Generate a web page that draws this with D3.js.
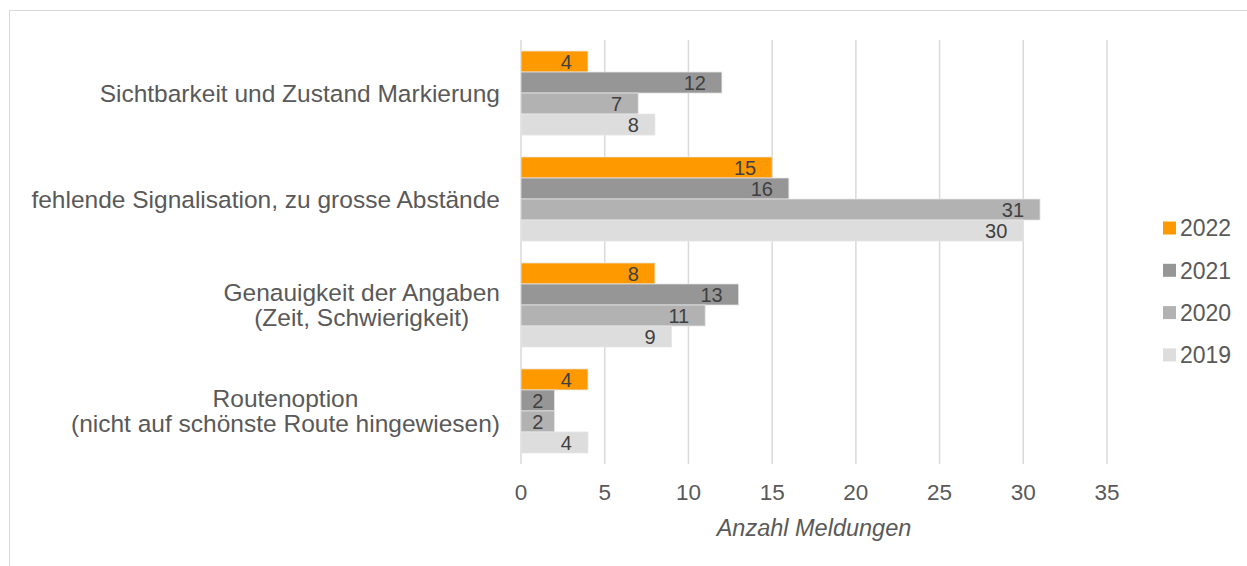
<!DOCTYPE html>
<html>
<head>
<meta charset="utf-8">
<script src="https://cdn.jsdelivr.net/npm/d3@7"></script>
<style>
  body { margin: 0; background: #fff; }
  text { font-family: "Liberation Sans", Arial, sans-serif; }
</style>
</head>
<body>
<div id="chart"></div>
<script>
// categories, top to bottom (multi-line labels split on "|")
const categories = [
	"Sichtbarkeit und Zustand Markierung",
	"fehlende Signalisation, zu grosse Abstände",
	"Genauigkeit der Angaben|(Zeit, Schwierigkeit)",
	"Routenoption|(nicht auf schönste Route hingewiesen)"
];
const years = ["2022", "2021", "2020", "2019"];
const values2022 = [4, 15, 8, 4];
const values2021 = [12, 16, 13, 2];
const values2020 = [7, 31, 11, 2];
const values2019 = [8, 30, 9, 4];
const xTicks = [0, 5, 10, 15, 20, 25, 30, 35];
const colors = ["#ff9900", "#969696", "#b2b2b2", "#dddddd"];

const seriesValues = [values2022, values2021, values2020, values2019];

const width = 1247, height = 566;
const margin = {top: 40, left: 521, right: 140, bottom: 102};

const svg = d3.select("#chart").append("svg")
	.attr("width", width)
	.attr("height", height);

// outer frame
svg.append("path")
	.attr("d", `M9.5,${height} V10.5 H${width}`)
	.attr("fill", "none")
	.attr("stroke", "#d9d9d9");

const x = d3.scaleLinear()
	.domain([0, 35])
	.range([margin.left, 1107]);

const y = d3.scaleBand()
	.domain(categories)
	.range([margin.top, height - margin.bottom])
	.paddingInner(0.207)
	.paddingOuter(0.104);

const ySub = d3.scaleBand()
	.domain(years)
	.range([0, y.bandwidth()]);

// gridlines
svg.append("g")
	.selectAll("line")
	.data(xTicks)
	.join("line")
	.attr("x1", d => x(d))
	.attr("x2", d => x(d))
	.attr("y1", margin.top)
	.attr("y2", height - margin.bottom)
	.attr("stroke", "#d9d9d9")
	.attr("stroke-width", 1.5);

// bars
const data = [];
categories.forEach((c, i) => {
	years.forEach((yr, j) => {
		data.push({cat: c, year: yr, value: seriesValues[j][i], color: colors[j]});
	});
});

const bars = svg.append("g");
bars.selectAll("rect")
	.data(data)
	.join("rect")
	.attr("x", x(0))
	.attr("y", d => y(d.cat) + ySub(d.year))
	.attr("width", d => x(d.value) - x(0))
	.attr("height", ySub.bandwidth())
	.attr("fill", d => d.color)
	.attr("stroke", "#e6e6e6")
	.attr("stroke-width", 0.75);

// labels at inside end, small bars keep a smaller inset
bars.selectAll("text")
	.data(data)
	.join("text")
	.attr("x", d => x(d.value) - (d.value < 3 ? 11 : 16))
	.attr("y", d => y(d.cat) + ySub(d.year) + ySub.bandwidth() / 2)
	.attr("dy", "0.36em")
	.attr("text-anchor", "end")
	.attr("font-size", 20)
	.attr("fill", "#404040")
	.text(d => d.value);

// category labels
const catG = svg.append("g");
categories.forEach(c => {
	const lines = c.split("|");
	const cy = y(c) + y.bandwidth() / 2;
	const lh = 25;
	const t = catG.append("text")
		.attr("font-size", 24.5)
		.attr("fill", "#595959")
		.attr("text-anchor", "middle");
	lines.forEach((l, k) => {
		t.append("tspan")
			.attr("y", cy + (k - (lines.length - 1) / 2) * lh)
			.attr("dy", "0.36em")
			.text(l);
	});
	let maxW = 0;
	t.selectAll("tspan").each(function() {
		maxW = Math.max(maxW, this.getComputedTextLength());
	});
	t.selectAll("tspan").attr("x", 500 - maxW / 2);
});

// x axis tick labels
svg.append("g")
	.selectAll("text")
	.data(xTicks)
	.join("text")
	.attr("x", d => x(d))
	.attr("y", 500)
	.attr("text-anchor", "middle")
	.attr("font-size", 22.5)
	.attr("fill", "#595959")
	.text(d => d);

// axis title
svg.append("text")
	.attr("x", 814)
	.attr("y", 536)
	.attr("text-anchor", "middle")
	.attr("font-size", 23.5)
	.attr("font-style", "italic")
	.attr("fill", "#595959")
	.text("Anzahl Meldungen");

// legend
const legend = svg.append("g")
	.selectAll("g")
	.data(years)
	.join("g")
	.attr("transform", (d, i) => `translate(1163, ${228 + i * 42.3})`);

legend.append("rect")
	.attr("x", 0)
	.attr("y", -6.5)
	.attr("width", 13)
	.attr("height", 13)
	.attr("fill", (d, i) => colors[i]);

legend.append("text")
	.attr("x", 17)
	.attr("dy", "0.36em")
	.attr("font-size", 23)
	.attr("fill", "#595959")
	.text(d => d);
</script>
</body>
</html>
